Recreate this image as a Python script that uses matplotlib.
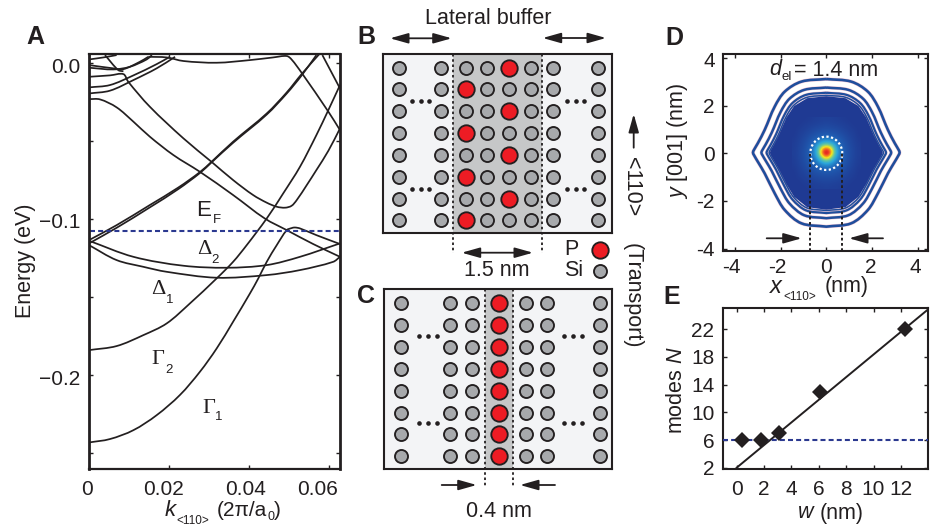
import matplotlib
matplotlib.use("Agg")
import matplotlib.pyplot as plt
import numpy as np
from matplotlib.colors import LinearSegmentedColormap
from matplotlib.patches import PathPatch
from matplotlib.path import Path
from matplotlib.transforms import ScaledTranslation

W, H = 934, 526
INK = '#231f20'
NAVY = '#2b3990'
plt.rcParams['font.family'] = ['Liberation Sans', 'DejaVu Sans']
plt.rcParams['mathtext.fontset'] = 'custom'
plt.rcParams['mathtext.rm'] = 'Liberation Sans'
plt.rcParams['mathtext.it'] = 'Liberation Sans:italic'
plt.rcParams['text.color'] = INK
plt.rcParams['axes.edgecolor'] = INK
plt.rcParams['xtick.color'] = INK
plt.rcParams['ytick.color'] = INK
FS = 15.5
TFS = 15

# ---------- Panel A: band structure (k in 2pi/a0, E in eV) ----------
bands = {
 'gamma1': ([0,.00524,.0111,.0169,.0227,.0277,.0319,.036,.0402,.0423,.0444,.0469,.0494,.0506,.0514,.0527,.0568,.0627],
            [-.2434,-.2412,-.2355,-.2259,-.2130,-.1981,-.1831,-.1660,-.1479,-.1382,-.1276,-.1169,-.1073,-.106,-.1056,-.1062,-.1105,-.1162]),
 'gamma2': ([0,.0069,.01357,.0194,.0252,.0319,.036,.0394,.0444,.0485,.0527,.0568,.0598,.0627],
            [-.1842,-.1816,-.1746,-.1671,-.1543,-.1382,-.1276,-.1169,-.0998,-.0838,-.0667,-.0464,-.0303,-.0143]),
 'desc2':  ([0,.00524,.0086,.0098,.0152,.0236,.0306,.036,.041,.0444,.0469,.049,.0506,.0519,.0544,.0568,.0598,.0627],
            [-.009,-.0081,-.0073,-.0122,-.0282,-.0485,-.0635,-.0752,-.0848,-.0897,-.0923,-.0929,-.0917,-.088,-.0784,-.0688,-.0564,-.0421]),
 'desc1':  ([0,.00275,.0069,.0111,.0152,.0211,.0277,.036,.0439,.0494,.056,.0627],
            [-.0233,-.0235,-.0286,-.0378,-.0474,-.0592,-.0699,-.0848,-.0998,-.1073,-.1162,-.1244]),
 'riseA':  ([0,.0069,.0152,.0223,.0277,.0306,.036,.0444,.0494,.0531,.0577],
            [-.1137,-.1041,-.0912,-.0800,-.0701,-.0635,-.0506,-.0325,-.0190,-.0073,.006]),
 'riseB':  ([0,.0069,.0152,.0223,.0277,.0306,.036,.0444,.0494,.0531,.0568],
            [-.1158,-.1058,-.0927,-.0810,-.0707,-.0639,-.0513,-.0332,-.0197,-.0082,.0049]),
 'delta2a':([0,.0111,.02355,.0344,.0444,.0527,.0627],
            [-.1141,-.1244,-.1301,-.1314,-.1297,-.1244,-.1158]),
 'delta2b':([0,.0069,.01357,.0194,.0319,.0444,.0527,.061,.0627],
            [-.1169,-.1265,-.1308,-.134,-.1378,-.1361,-.1329,-.1276,-.1244]),
 'top':    ([.0148,.0194,.0236,.0319,.0402,.046,.0494,.0506,.0531,.0598,.0627],
            [.0038,.0034,.0011,0,.0017,.0034,.0043,.0021,-.0064,-.0314,-.0432]),
 'right':  ([.0583,.0627],[.0049,-.0165]),
 'p1':     ([0,.00524,.0111,.0169,.0202],[-.0158,-.0143,-.0081,-.0009,.0038]),
 'p2':     ([0,.00524,.0111,.0169,.0215],[-.0197,-.0179,-.0111,-.0036,.0038]),
 'p3':     ([0,.0061,.0102,.0144,.0157],[-.0032,-.0043,-.0026,.0021,.0049]),
 'p4':     ([0,.0061,.0086,.0127,.0148],[-.0015,-.0036,-.0041,.0006,.0038]),
 'p5':     ([0,.0036,.0069],[.0021,.0034,.0049]),
 'p6':     ([.004,.0073,.0086],[.0049,-.0047,-.0055]),
}
fermi_energy = -.1081
k_ticks = [0, .02, .04, .06]
k_ticklabels = ['0', '0.02', '0.04', '0.06']
k_label_shift = [-2, -6, -4, -12]
E_ticks = [0, -.05, -.1, -.15, -.2, -.25]
E_ticklabels = ['0.0', '', '\u22120.1', '', '\u22120.2', '']

# ---------- Panels B, C: lattice (schematic positions) ----------
B_cols = [399, 441.3, 465.7, 487, 509.3, 531, 552.7, 597.7]
B_rows = [68, 89.3, 111.3, 133.3, 155, 176.7, 198.7, 220.3]
B_red_left_col, B_red_right_col = 465.7, 509.3
B_dots_x = [411.7, 420.7, 429.3, 566.7, 575.7, 584.3]
B_dots_y = [101, 188.7]
B_band = (452.7, 542.3)
C_cols = [400.7, 450, 472.3, 526, 547.3, 600]
C_red_col = 498.7
C_rows = [303, 325, 346.7, 368.7, 390.7, 412.7, 434.3, 456]
C_dots_x = [419, 427.7, 436.7, 564.3, 573, 582]
C_dots_y = [335.7, 423.3]
C_band = (485, 513.3)

# ---------- Panel D: electron density ----------
D_ticks = [-4, -2, 0, 2, 4]
D_ticklabels = ['-4', '-2', '0', '2', '4']
outline_x = [0,1.09,1.82,2.26,2.70,3.0,3.17,3.21,3.17,3.0,2.7,2.26,1.82,1.09,0]
outline_y = [3.12,3.01,2.59,1.96,.98,.42,.14,.03,-.07,-.35,-.84,-1.68,-2.38,-2.94,-3.08]
shells = [1.0, .885, .815, .78]
fill_scale = .75
d_el = 1.4
density = [
 [0,0,0,.01,.02,.03,.04,.04,.04,.03,.02,.01,0,0,0],
 [0,0,.02,.03,.04,.05,.06,.07,.06,.05,.04,.03,.02,0,0],
 [0,.02,.03,.05,.07,.09,.10,.11,.10,.09,.07,.05,.03,.02,0],
 [0,.03,.05,.08,.11,.14,.16,.17,.16,.14,.11,.08,.05,.03,0],
 [.01,.04,.07,.11,.16,.21,.26,.28,.26,.21,.16,.11,.07,.04,.01],
 [.02,.05,.09,.14,.21,.32,.42,.47,.42,.32,.21,.14,.09,.05,.02],
 [.02,.06,.10,.16,.26,.42,.72,.82,.72,.42,.26,.16,.10,.06,.02],
 [.03,.06,.11,.17,.27,.45,.80,1.0,.80,.45,.27,.17,.11,.06,.03],
 [.02,.06,.10,.16,.24,.36,.58,.74,.58,.36,.24,.16,.10,.06,.02],
 [.02,.05,.09,.14,.20,.27,.36,.42,.36,.27,.20,.14,.09,.05,.02],
 [.01,.04,.07,.11,.15,.19,.23,.25,.23,.19,.15,.11,.07,.04,.01],
 [0,.03,.05,.08,.11,.13,.15,.16,.15,.13,.11,.08,.05,.03,0],
 [0,.02,.03,.05,.07,.09,.10,.10,.10,.09,.07,.05,.03,.02,0],
 [0,0,.02,.03,.04,.05,.06,.06,.06,.05,.04,.03,.02,0,0],
 [0,0,0,.01,.02,.03,.03,.04,.03,.03,.02,.01,0,0,0],
]
density_extent = [-1.5, 1.5, -1.5, 1.5]
stops = [(0, '#1f3a93'), (.2, '#1f5fb4'), (.38, '#2ba6dc'), (.52, '#63c6a0'), (.68, '#f6e61c'),
         (.85, '#ee3524'), (1, '#7c1014')]
cmap = LinearSegmentedColormap.from_list('dens', stops)

# ---------- Panel E: modes vs width ----------
w_nm = [.42, 1.75, 3.1, 6.1, 12.3]
modes = [6, 6, 7, 13, 22]
fit_w = [0, 14]
fit_N = [2, 24.9]
threshold = 6
E_xticks = [0, 2, 4, 6, 8, 10, 12]
E_yticks = [2, 6, 10, 14, 18, 22]

# ---------- helpers ----------
fig = plt.figure(figsize=(W/100, H/100), dpi=100, facecolor='white')

def axpx(l, t, r, b, **kw):
    return fig.add_axes([l/W, 1-b/H, (r-l)/W, (b-t)/H], **kw)

def T(x, y, s, size=FS, ha='center', va='center', **kw):
    return fig.text(x/W, 1-y/H, s, fontsize=size, ha=ha, va=va, **kw)

def shift(labels, dxs=None, dys=None):
    for i, lab in enumerate(labels):
        dx = dxs[i] if dxs else 0
        dy = dys[i] if dys else 0
        lab.set_transform(lab.get_transform() + ScaledTranslation(dx/100, -dy/100, fig.dpi_scale_trans))

def style(ax, lw=1.5):
    for s in ax.spines.values():
        s.set_linewidth(lw)
    ax.tick_params(direction='in', length=3, width=1, top=True, right=True, labelsize=TFS, pad=6)

def smooth_line(ax, xs, ys, sx, sy, **kw):
    """Draw the read points joined by a smooth Bezier path, in data coordinates."""
    x, y = np.asarray(xs, float), np.asarray(ys, float)
    h = np.hypot(np.diff(x)*sx, np.diff(y)*sy)
    tx, ty = np.zeros_like(x), np.zeros_like(y)
    tx[1:-1] = (x[2:]-x[:-2])/(h[1:]+h[:-1])
    ty[1:-1] = (y[2:]-y[:-2])/(h[1:]+h[:-1])
    tx[0], ty[0] = (x[1]-x[0])/h[0], (y[1]-y[0])/h[0]
    tx[-1], ty[-1] = (x[-1]-x[-2])/h[-1], (y[-1]-y[-2])/h[-1]
    verts, codes = [(x[0], y[0])], [Path.MOVETO]
    for i in range(len(h)):
        verts += [(x[i]+tx[i]*h[i]/3, y[i]+ty[i]*h[i]/3),
                  (x[i+1]-tx[i+1]*h[i]/3, y[i+1]-ty[i+1]*h[i]/3),
                  (x[i+1], y[i+1])]
        codes += [Path.CURVE4]*3
    p = PathPatch(Path(verts, codes), fill=False, **kw)
    ax.add_patch(p)
    return p

# ---------- A ----------
axA = axpx(89, 54, 340, 469)
for name, (k, e) in bands.items():
    smooth_line(axA, k, e, 4005, 1560, color=INK, lw=1.25, joinstyle='round', capstyle='butt')
axA.axhline(fermi_energy, color=NAVY, lw=1.5, dashes=(2.4, 1.5), xmin=.005)
axA.set_xlim(0, .0627)
axA.set_ylim(-.2604, .0056)
axA.set_xticks(k_ticks, k_ticklabels)
axA.set_yticks(E_ticks, E_ticklabels)
style(axA, 1.6)
axA.spines['left'].set_linewidth(2.0)
axA.spines['right'].set_linewidth(2.0)
axA.tick_params(axis='x', pad=8)
shift(axA.get_xticklabels(), k_label_shift)
shift(axA.get_yticklabels(), None, [3, 0, 2, 0, 3, 0])

# ---------- B, C ----------
RED, SI = '#ed1c24', '#a7a9ac'
BOXFC = '#f3f4f6'
BAND = '#c6c7c8'

def panel(l, t, r, b, band, dotted_to, cols, rows, reds, dots_x, dots_y):
    ax = axpx(l, t, r, b, facecolor=BOXFC)
    ax.set_xlim(l, r)
    ax.set_ylim(b, t)
    ax.set_xticks([]); ax.set_yticks([])
    for s in ax.spines.values():
        s.set_linewidth(1.5)
    ax.axvspan(band[0], band[1], color=BAND, lw=0, zorder=0)
    for x in band:
        ax.plot([x, x], [t, dotted_to], color=INK, lw=1.3, dashes=(1.4, 1.5), clip_on=False, zorder=1)
    X, Y = np.meshgrid(cols, rows)
    ax.scatter(X.ravel(), Y.ravel(), s=88, c=SI, edgecolors=INK, linewidths=1.35, zorder=2)
    ax.scatter([p[0] for p in reds], [p[1] for p in reds], s=140, c=RED, edgecolors=INK, linewidths=1.35, zorder=3)
    DX, DY = np.meshgrid(dots_x, dots_y)
    ax.scatter(DX.ravel(), DY.ravel(), s=11, c=INK, linewidths=0, zorder=3)
    return ax

reds_B = [(B_red_right_col if i % 2 == 0 else B_red_left_col, y) for i, y in enumerate(B_rows)]
axB = panel(383.3, 53.7, 611.7, 233.3, B_band, 253, B_cols, B_rows, reds_B, B_dots_x, B_dots_y)
reds_C = [(C_red_col, y) for y in C_rows]
axC = panel(383.7, 289.3, 612.3, 468.7, C_band, 486, C_cols, C_rows, reds_C, C_dots_x, C_dots_y)

# ---------- D ----------
axD = axpx(723.3, 54, 927.7, 250.7)
ox, oy = np.array(outline_x), np.array(outline_y)
loop_x = np.r_[ox, -ox[::-1]]
loop_y = np.r_[oy, oy[::-1]]
BLUE = '#1f4e9c'
for sc, lw in zip(shells, [1.9, 1.8, 1.6, 1.1]):
    smooth_line(axD, loop_x*sc, loop_y*sc, 23, 23.8, color='#f4c9d6', lw=lw+.7, zorder=1)
    smooth_line(axD, loop_x*sc, loop_y*sc, 23, 23.8, color=BLUE, lw=lw, zorder=2)
axD.fill(loop_x*fill_scale, loop_y*fill_scale, color=stops[0][1], lw=2, zorder=3)
axD.imshow(density, extent=density_extent, cmap=cmap, vmin=0, vmax=1, interpolation='bicubic',
           origin='upper', zorder=4, aspect='auto')
th = np.radians(np.arange(0, 360, 1.0))
axD.plot(d_el/2*np.cos(th), d_el/2*np.sin(th), color='white', lw=1.6, dashes=(1, 1.1), zorder=5)
for x in (-d_el/2, d_el/2):
    axD.plot([x, x], [-4.09, 0], color=INK, lw=1.4, dashes=(1.4, 1.3), zorder=6)
axD.set_xlim(-4.51, 4.44)
axD.set_ylim(-4.09, 4.17)
axD.set_xticks(D_ticks, D_ticklabels)
axD.set_yticks(D_ticks, D_ticklabels)
style(axD)
axD.tick_params(axis='x', pad=5)
shift(axD.get_xticklabels(), [-4, -3, 0, -1, -2])
shift(axD.get_yticklabels(), None, [0, 0, 0, 0, 1])

# ---------- E ----------
axE = axpx(722.7, 308.3, 928.3, 469.3)
axE.plot(fit_w, fit_N, color=INK, lw=1.4, zorder=2)
axE.axhline(threshold, color=NAVY, lw=1.5, dashes=(2.4, 1.5), zorder=3)
axE.plot(w_nm, modes, ls='none', marker='D', ms=8.2, color=INK, mew=0, zorder=4)
axE.set_xlim(-1.02, 14.0)
axE.set_ylim(1.77, 25.03)
axE.set_xticks(E_xticks)
axE.set_yticks(E_yticks)
style(axE)
axE.tick_params(axis='x', pad=8)

# ---------- overlay arrows ----------
ov = fig.add_axes([0, 0, 1, 1], facecolor='none', zorder=20)
ov.set_xlim(0, W); ov.set_ylim(H, 0); ov.axis('off')

def arrow(x0, y0, x1, y1, both=False):
    st = ('<|-|>' if both else '-|>') + ',head_length=11,head_width=3.1'
    ov.annotate('', xy=(x1, y1), xytext=(x0, y0),
                arrowprops=dict(arrowstyle=st, lw=1.3, color=INK, shrinkA=0, shrinkB=0, mutation_scale=1))

arrow(390, 38.3, 451.7, 38.3, True)
arrow(542.7, 38, 606, 38, True)
arrow(461.7, 252.7, 533, 252.7, True)
arrow(633.7, 147.7, 633.7, 114)
arrow(441.7, 485, 476.7, 485)
arrow(555, 485, 520, 485)
arrow(766.7, 238.3, 801.7, 238.3)
arrow(883, 238.3, 849, 238.3)

ov.scatter([600], [250.3], s=140, c=RED, edgecolors=INK, linewidths=1.35)
ov.scatter([600], [271], s=88, c=SI, edgecolors=INK, linewidths=1.35)

# ---------- text ----------
for x, y, s in [(35, 37, 'A'), (366, 37, 'B'), (366, 296, 'C'), (674, 38, 'D'), (672, 297, 'E')]:
    T(x, y, s, size=18, fontweight='bold')

T(25, 261, 'Energy (eV)', rotation=90)
T(170, 511, 'k', style='italic', size=16)
T(192.7, 521, '<110>', size=8.5)
T(217, 511, '(2\u03c0/a', ha='left', size=15)
T(267, 517.5, '0', ha='left', size=9)
T(273.5, 511, ')', ha='left', size=15)

SERIF = ['Liberation Serif', 'DejaVu Serif']
T(204, 210, 'E', size=16)
T(216.7, 220, 'F', size=9.5)
T(204.3, 250, '\u0394', size=16, family=SERIF)
T(215.5, 260, '2', size=9.5)
T(158, 289, '\u0394', size=16, family=SERIF)
T(169.5, 300, '1', size=9.5)
T(157.7, 360, '\u0393', size=16, family=SERIF)
T(168.5, 370, '2', size=9.5)
T(209.3, 408.3, '\u0393', size=16, family=SERIF)
T(219, 417.3, '1', size=9.5)

T(488, 18, 'Lateral buffer')
T(496.7, 271, '1.5 nm')
T(571.7, 249.5, 'P')
T(574, 270.5, 'Si')
T(631.5, 186.7, '<110>', rotation=270)
T(632, 296, '(Transport)', rotation=270)
T(499.3, 511.7, '0.4 nm')

T(769.5, 69, 'd', ha='left', style='italic')
T(781, 77, 'el', ha='left', size=9.5)
T(794, 70, '= 1.4 nm', ha='left')
T(678, 141, r'$\mathit{y}$ [001] (nm)', rotation=90)
T(776, 286.5, 'x', style='italic', size=17)
T(800, 296.5, '<110>', size=8.5)
T(846.7, 286.5, '(nm)')
T(806, 513, 'w', style='italic')
T(820, 513, '(nm)', ha='left')
T(677, 390, r'modes $\mathit{N}$', rotation=90)

fig.savefig('out.png', dpi=100, facecolor='white')
